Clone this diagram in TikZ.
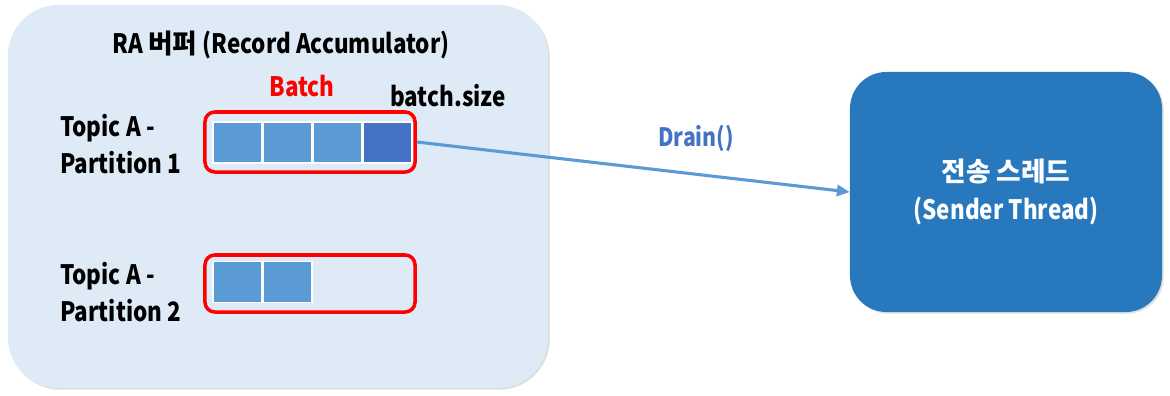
\documentclass[tikz,border=0pt]{standalone}
\usepackage{fontspec}
\setmainfont{Noto Sans CJK KR}[FakeStretch=0.84]
\newfontfamily\kor{Noto Sans CJK KR}
\usetikzlibrary{arrows.meta,positioning,shadows}
\definecolor{paleblue}{RGB}{222,235,247}
\definecolor{cellblue}{RGB}{91,155,213}
\definecolor{deepblue}{RGB}{68,114,196}
\definecolor{thread}{RGB}{40,120,190}
\definecolor{alert}{RGB}{255,0,0}
\tikzset{
  >={Triangle[length=3.2mm,width=2.8mm]},
  panel/.style={fill=paleblue,rounded corners=36pt,
    drop shadow={opacity=0.25,shadow xshift=1.2pt,shadow yshift=-1.2pt}},
  sender/.style={fill=thread,text=white,rounded corners=26pt,align=center,
    minimum width=7.8cm,minimum height=6cm,font=\fontsize{19}{27}\selectfont\bfseries,
    drop shadow={opacity=0.25,shadow xshift=1.2pt,shadow yshift=-1.2pt}},
  batchbox/.style={draw=alert,line width=2.5pt,rounded corners=7pt,
    minimum width=5.25cm},
  cell/.style={fill=#1,draw=white,line width=0.9pt,minimum width=1.225cm,
    minimum height=1.025cm,inner sep=0pt},
  cell/.default=cellblue,
  label/.style={font=\fontsize{19}{26}\selectfont\bfseries,inner sep=0pt},
  flow/.style={->,draw=cellblue,line width=2.2pt},
}
\begin{document}
\begin{tikzpicture}[x=0.025cm,y=-0.025cm]
  \useasboundingbox (0,0) rectangle (1170,395);
  % record accumulator
  \node[panel,minimum width=13.5cm,minimum height=9.575cm] (ra) at (278,196.5) {};
  \node[label] (title) at (281,45) {RA {\kor\bfseries 버퍼} (Record Accumulator)};
  \node[label,text=alert] (batch) at (302,86) {Batch};
  \node[label] (size) at (448,96) {batch.size};
  % partition 1
  \node[batchbox,minimum height=1.5cm] (part1) at (310,142) {};
  \foreach \i in {0,1,2} \node[cell] (c1\i) at (237.5+50*\i,142.5) {};
  \node[cell=deepblue] (c13) at (387.5,142.5) {};
  \node[label,align=left,anchor=west] (topic1) at (60,144) {Topic A -\\Partition 1};
  % partition 2
  \node[batchbox,minimum height=1.425cm] (part2) at (310,283.5) {};
  \foreach \i in {0,1} \node[cell] (c2\i) at (237.5+50*\i,282) {};
  \node[label,align=left,anchor=west] (topic2) at (60,292) {Topic A -\\Partition 2};
  % sender thread
  \node[sender] (send) at (1006,192) {{\kor\bfseries 전송 스레드}\\(Sender Thread)};
  \draw[flow] (part1.east) -- (send.west);
  \node[label,text=deepblue,font=\fontsize{18}{24}\selectfont\bfseries] (drain) at (696,138) {Drain()};
\end{tikzpicture}
\end{document}
